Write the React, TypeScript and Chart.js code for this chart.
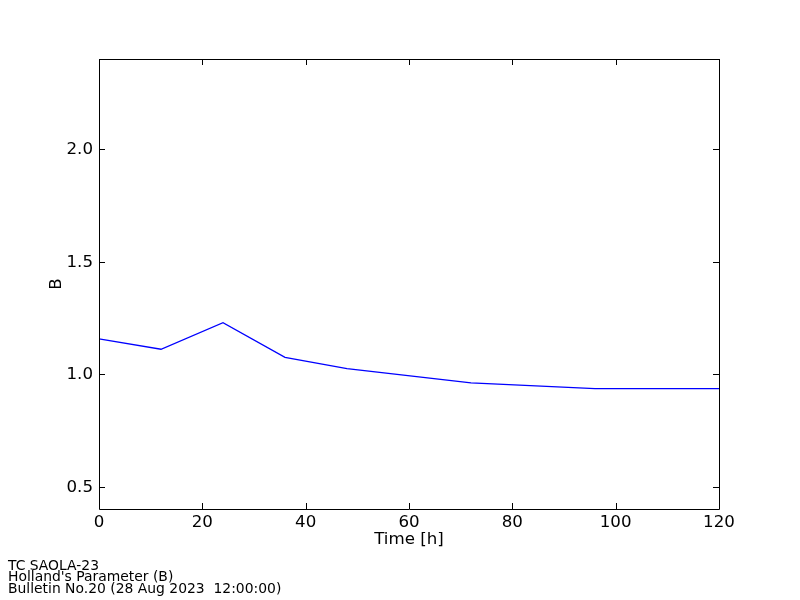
import React, { useEffect, useRef } from "react";
import { Chart, registerables } from "chart.js";

Chart.register(...registerables);

const hours = [0, 12, 24, 36, 48, 72, 96, 120];
const bValues = [1.156, 1.11, 1.228, 1.074, 1.024, 0.961, 0.935, 0.935];
const xTicks = [0, 20, 40, 60, 80, 100, 120];
const yTicks = [0.5, 1.0, 1.5, 2.0];
const footerLines = [
  "TC SAOLA-23",
  "Holland's Parameter (B)",
  "Bulletin No.20 (28 Aug 2023  12:00:00)",
];

const FONT = "'DejaVu Sans', sans-serif";

const framePlugin = {
  id: "frame",
  afterDraw(chart: any) {
    const { ctx, chartArea } = chart;
    const { left, right, top, bottom } = chartArea;
    const xs = chart.scales.x;
    const ys = chart.scales.y;
    const tl = 6;
    ctx.save();
    ctx.strokeStyle = "#000";
    ctx.lineWidth = 1;
    ctx.beginPath();
    for (const v of xTicks) {
      const px = Math.round(xs.getPixelForValue(v)) + 0.5;
      ctx.moveTo(px, bottom);
      ctx.lineTo(px, bottom - tl);
      ctx.moveTo(px, top);
      ctx.lineTo(px, top + tl);
    }
    for (const v of yTicks) {
      const py = Math.round(ys.getPixelForValue(v)) + 0.5;
      ctx.moveTo(left, py);
      ctx.lineTo(left + tl, py);
      ctx.moveTo(right, py);
      ctx.lineTo(right - tl, py);
    }
    ctx.stroke();
    ctx.beginPath();
    ctx.rect(Math.round(left) + 0.5, Math.round(top) + 0.5, Math.round(right - left), Math.round(bottom - top));
    ctx.stroke();
    ctx.fillStyle = "#000";
    ctx.font = `13.9px ${FONT}`;
    ctx.textAlign = "left";
    ctx.textBaseline = "alphabetic";
    footerLines.forEach((t, i) => {
      ctx.fillText(t, 8, 569.5 + i * 11.8);
    });
    ctx.restore();
  },
};

export default function App() {
  const ref = useRef<HTMLCanvasElement>(null);
  useEffect(() => {
    if (!ref.current) return;
    const chart = new Chart(ref.current, {
      type: "line",
      data: {
        datasets: [
          {
            data: hours.map((h, i) => ({ x: h, y: bValues[i] })),
            borderColor: "#0000ff",
            borderWidth: 1.3,
            pointRadius: 0,
            fill: false,
            tension: 0,
          },
        ],
      },
      options: {
        animation: false,
        responsive: false,
        maintainAspectRatio: false,
        layout: { padding: { top: 59, right: 81, left: 0, bottom: 0 } },
        plugins: { legend: { display: false }, tooltip: { enabled: false } },
        scales: {
          x: {
            type: "linear",
            min: 0,
            max: 120,
            grid: { display: false, drawTicks: false },
            border: { display: false },
            afterBuildTicks: (s: any) => {
              s.ticks = xTicks.map((v) => ({ value: v }));
            },
            afterFit: (s: any) => {
              s.height = 91;
            },
            ticks: {
              color: "#000",
              font: { family: FONT, size: 16.67 },
              padding: 4,
              maxRotation: 0,
              callback: (v: any) => String(v),
            },
            title: {
              display: true,
              text: "Time [h]",
              color: "#000",
              font: { family: FONT, size: 16.67 },
              padding: { top: 0, bottom: 50 },
            },
          },
          y: {
            type: "linear",
            min: 0.4,
            max: 2.4,
            grid: { display: false, drawTicks: false },
            border: { display: false },
            afterBuildTicks: (s: any) => {
              s.ticks = yTicks.map((v) => ({ value: v }));
            },
            afterFit: (s: any) => {
              s.width = 99;
            },
            ticks: {
              color: "#000",
              font: { family: FONT, size: 16.67 },
              padding: 6,
              labelOffset: 1,
              callback: (v: any) => Number(v).toFixed(1),
            },
            title: {
              display: true,
              text: "B",
              color: "#000",
              font: { family: FONT, size: 16.67 },
              padding: { top: 46.5, bottom: 0 },
            },
          },
        },
      },
      plugins: [framePlugin],
    });
    return () => chart.destroy();
  }, []);
  return (
    <div style={{ position: "absolute", left: 0, top: 0, width: 800, height: 600, background: "#fff" }}>
      <canvas ref={ref} width={800} height={600} style={{ width: 800, height: 600 }} />
    </div>
  );
}
